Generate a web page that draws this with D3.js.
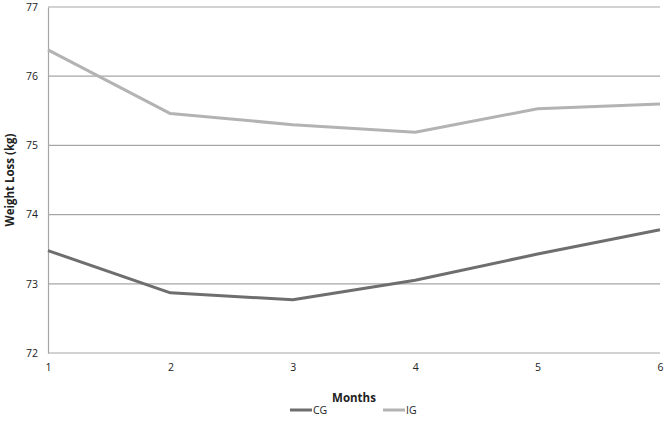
<!DOCTYPE html>
<html>
<head>
<meta charset="utf-8">
<script src="https://cdn.jsdelivr.net/npm/d3@7"></script>
<style>
  body { margin: 0; background: #fff; }
  text { font-family: "Open Sans", "Liberation Sans", sans-serif; fill: #222; }
  .axis text { font-size: 10.5px; }
  .title { font-size: 11.5px; font-weight: bold; }
  .legend text { font-size: 10.5px; }
</style>
</head>
<body>
<div id="chart"></div>
<script>
var months = [1, 2, 3, 4, 5, 6];
var yTicks = [72, 73, 74, 75, 76, 77];
var cgValues = [73.48, 72.87, 72.77, 73.05, 73.43, 73.78];
var igValues = [76.38, 75.46, 75.30, 75.19, 75.53, 75.60];
var seriesNames = ["CG", "IG"];
var seriesColors = ["#6e6e6e", "#b3b3b3"];

var W = 665, H = 422;
var margin = {top: 7, right: 5, bottom: 69, left: 48},
  width = W - margin.left - margin.right,
  height = H - margin.top - margin.bottom;

var xScale = d3.scaleLinear().domain([1, 6]).range([0, width]);
var yScale = d3.scaleLinear().domain([72, 77]).range([height, 0]);

var svg = d3.select("#chart").append("svg")
    .attr("width", W)
    .attr("height", H)
  .append("g")
    .attr("transform", "translate(" + margin.left + "," + margin.top + ")");

// horizontal gridlines
svg.append("g")
    .attr("class", "grid")
    .selectAll("line")
    .data(yTicks)
  .enter().append("line")
    .attr("x1", 0)
    .attr("x2", width)
    .attr("y1", function(d) { return yScale(d); })
    .attr("y2", function(d) { return yScale(d); })
    .attr("stroke", "#a6a6a6")
    .attr("stroke-width", 1.2);

// y axis
var yAxis = svg.append("g")
    .attr("class", "y axis")
    .call(d3.axisLeft(yScale).tickValues(yTicks).tickSize(0).tickPadding(10).tickFormat(d3.format("d")));
yAxis.select(".domain").attr("stroke", "#a6a6a6").attr("stroke-width", 1.2);

// x axis (labels only)
var xAxis = svg.append("g")
    .attr("class", "x axis")
    .attr("transform", "translate(0," + height + ")")
    .call(d3.axisBottom(xScale).tickValues(months).tickSize(0).tickPadding(11).tickFormat(d3.format("d")));
xAxis.select(".domain").remove();

// lines
var line = d3.line()
    .x(function(d, i) { return xScale(months[i]); })
    .y(function(d) { return yScale(d); });

[cgValues, igValues].forEach(function(vals, k) {
  svg.append("path")
      .datum(vals)
      .attr("fill", "none")
      .attr("stroke", seriesColors[k])
      .attr("stroke-width", 3)
      .attr("stroke-linejoin", "round")
      .attr("d", line);
});

// axis titles
svg.append("text")
    .attr("class", "title")
    .attr("transform", "rotate(-90)")
    .attr("x", -height / 2)
    .attr("y", -34)
    .attr("text-anchor", "middle")
    .text("Weight Loss (kg)");

svg.append("text")
    .attr("class", "title")
    .attr("x", 354 - margin.left)
    .attr("y", height + 49)
    .attr("text-anchor", "middle")
    .text("Months");

// legend
var legend = d3.select("svg").append("g")
    .attr("class", "legend")
    .selectAll("g")
    .data(seriesNames)
  .enter().append("g")
    .attr("transform", function(d, i) { return "translate(" + (290 + i * 93) + ",410)"; });

legend.append("line")
    .attr("x1", 0).attr("x2", 22)
    .attr("y1", 0).attr("y2", 0)
    .attr("stroke", function(d, i) { return seriesColors[i]; })
    .attr("stroke-width", 3);

legend.append("text")
    .attr("x", 23)
    .attr("y", 4)
    .text(function(d) { return d; });
</script>
</body>
</html>
